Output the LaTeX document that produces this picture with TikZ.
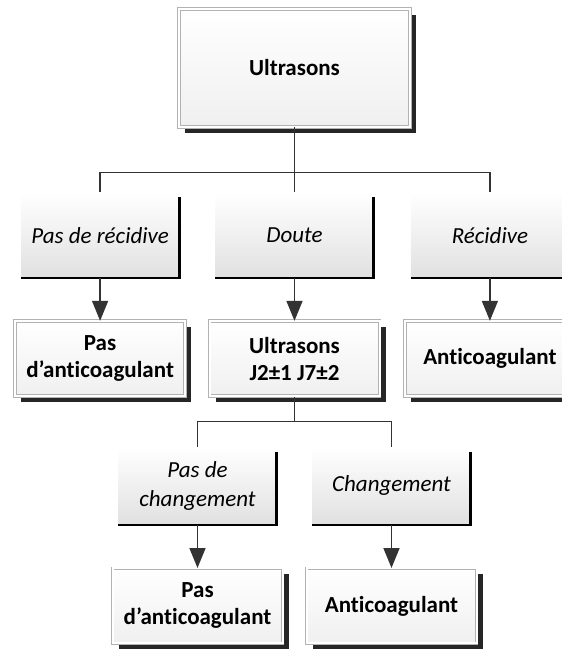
\documentclass[tikz,border=0pt]{standalone}
\usepackage{fontspec}
\setmainfont[Ligatures=NoCommon]{Carlito}
\usetikzlibrary{positioning, arrows.meta, shadows}
\tikzstyle{outcome} = [rectangle, draw=gray!60, double=white, double distance=2pt, line width=0.8pt,
    top color=white, bottom color=gray!12, minimum width=170pt, minimum height=75pt, align=center,
    font=\fontsize{23pt}{27pt}\selectfont\bfseries,
    general shadow={fill=black!85, shadow xshift=6pt, shadow yshift=-6pt}]
\tikzstyle{branch} = [rectangle, top color=white, bottom color=gray!24, minimum width=158pt,
    minimum height=85pt, align=center, font=\fontsize{23pt}{29pt}\selectfont\itshape]
\tikzstyle{line} = [draw, line width=1.6pt, black!80]
\tikzstyle{arrow} = [line, -{Triangle[width=16pt, length=20pt]}]
\tikzstyle{edge} = [draw, line width=2.5pt, black]

\begin{document}
\begin{tikzpicture}
	\useasboundingbox (0,0) rectangle (562pt,-657pt);
	% node placement
	\node [outcome, minimum width=231pt, minimum height=118pt] (US) at (294.5pt,-68pt) {Ultrasons};
	\node [branch, below = 65pt of US] (doubt) {Doute};
	\node [branch, left = 36pt of doubt] (norelapse) {Pas de récidive};
	\node [branch, right = 37pt of doubt] (relapse) {Récidive};
	
	\node [outcome, below = 43pt of norelapse] (noAC1) {Pas\\d’anticoagulant};
	\node [outcome, below = 43pt of doubt] (US2) {Ultrasons\\J2±1 J7±2};
	\node [outcome, below = 43pt of relapse] (AC1) {Anticoagulant};
	
	\node [branch, minimum height=78pt, below = 50pt of US2, xshift=-97pt] (nochange) {Pas de\\changement};
	\node [branch, minimum height=78pt, below = 50pt of US2, xshift=97pt] (change) {Changement};
	
	\node [outcome, below = 43pt of nochange] (noAC2) {Pas\\d’anticoagulant};
	\node [outcome, below = 43pt of change] (AC2) {Anticoagulant};
	
	% box edges
	\foreach \b in {norelapse, doubt, relapse, nochange, change}
		\path[edge] ([yshift=-5pt]\b.north east) |- (\b.south west);
	
	% forks
	\path[line] (US.south) -- ++(0,-45pt) coordinate (fork1);
	\path[line] (norelapse.north) |- (fork1) -| (relapse.north);
	\path[line] (fork1) -- (doubt.north);
	\path[line] (US2.south) -- ++(0,-25pt) coordinate (fork2);
	\path[line] (nochange.north) |- (fork2) -| (change.north);
	
	% arrows
	\path[arrow] (norelapse.south) -- (noAC1.north);
	\path[arrow] (doubt.south) -- (US2.north);
	\path[arrow] (relapse.south) -- (AC1.north);
	\path[arrow] (nochange.south) -- (noAC2.north);
	\path[arrow] (change.south) -- (AC2.north);
\end{tikzpicture}
\end{document}
